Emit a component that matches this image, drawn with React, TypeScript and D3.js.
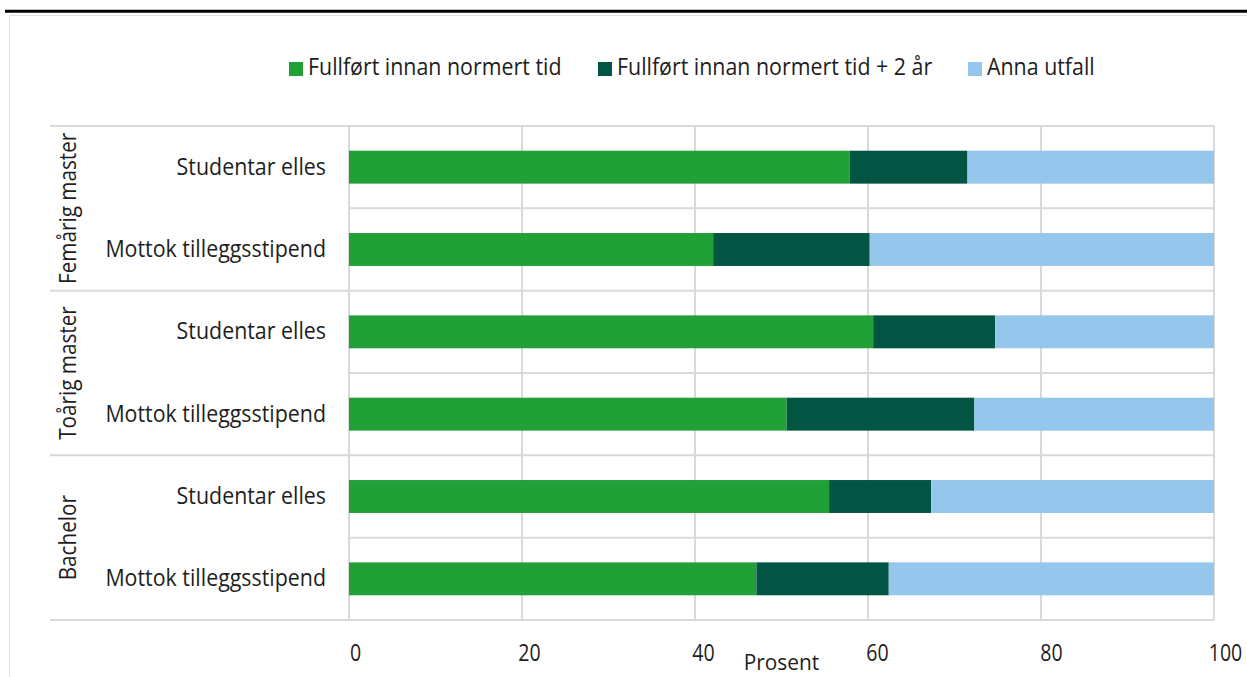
import React from 'react';
import * as d3 from 'd3';

const groups = ['Femårig master', 'Toårig master', 'Bachelor'];
const categories = ['Studentar elles', 'Mottok tilleggsstipend'];
const seriesNames = ['Fullført innan normert tid', 'Fullført innan normert tid + 2 år', 'Anna utfall'];
const normertTid = [57.9, 42.1, 60.6, 50.6, 55.5, 47.1];
const pluss2Aar = [13.6, 18.1, 14.1, 21.7, 11.8, 15.3];
const annaUtfall = [28.5, 39.8, 25.3, 27.7, 32.7, 37.6];
const xTicks = [0, 20, 40, 60, 80, 100];
const axisTitle = 'Prosent';

const colors = ['#21a038', '#025443', '#95c6ec'];
const W = 1247;
const H = 677;
const FONT = '"Open Sans", sans-serif';
const TXT = '#1e1e1e';
const GRID = '#d9d9d9';

type Row = { key: string; group: string; cat: string; [k: string]: any };

const rows: Row[] = [];
groups.forEach((g, gi) => {
  categories.forEach((c, ci) => {
    const i = gi * categories.length + ci;
    rows.push({
      key: `${g}|${c}`,
      group: g,
      cat: c,
      [seriesNames[0]]: normertTid[i],
      [seriesNames[1]]: pluss2Aar[i],
      [seriesNames[2]]: annaUtfall[i],
    });
  });
});

function T(props: {
  x: number; y: number; text: string; size?: number; sx?: number; anchor?: string; rotate?: number;
}) {
  const { x, y, text, size = 23, sx = 0.9, anchor = 'start', rotate = 0 } = props;
  return (
    <text
      transform={`translate(${x},${y}) rotate(${rotate}) scale(${sx},1)`}
      fontFamily={FONT}
      fontSize={size}
      fill={TXT}
      textAnchor={anchor}
    >
      {text}
    </text>
  );
}

export default function App() {
  const left = 349;
  const right = 1214;
  const top = 126;
  const bottom = 620;

  const x = d3.scaleLinear().domain([0, 100]).range([left, right]);
  const y = d3
    .scaleBand<string>()
    .domain(rows.map((r) => r.key))
    .range([top, bottom])
    .paddingInner(0.6)
    .paddingOuter(0.3);
  const step = y.step();

  const stack = d3.stack<Row>().keys(seriesNames);
  const stacked = stack(rows);

  const legendX = [289, 598, 968];

  const groupBounds = groups.map((g) => {
    const keys = rows.filter((r) => r.group === g).map((r) => r.key);
    const y0 = (y(keys[0]) as number) - step * 0.3;
    const y1 = (y(keys[keys.length - 1]) as number) + y.bandwidth() + step * 0.3;
    return { g, y0, y1 };
  });

  return (
    <svg
      width={W}
      height={H}
      style={{ position: 'absolute', left: 0, top: 0, display: 'block', background: '#fff' }}
    >
      <rect x={0} y={0} width={W} height={H} fill="#fff" />
      {/* top black rule */}
      <line x1={5} x2={W} y1={11.3} y2={11.3} stroke="#000" strokeWidth={3} />
      {/* outer chart border */}
      <rect x={9.5} y={15.5} width={W + 10} height={H + 10} fill="none" stroke="#e0e0e0" strokeWidth={1} />

      {/* legend */}
      {seriesNames.map((s, i) => (
        <g key={s}>
          <rect x={legendX[i]} y={62} width={14} height={14} fill={colors[i]} />
          <T x={legendX[i] + 19} y={75} text={s} size={23} sx={0.93} />
        </g>
      ))}

      {/* vertical gridlines */}
      {xTicks.map((t) => (
        <line key={t} x1={x(t)} x2={x(t)} y1={top} y2={bottom} stroke={GRID} strokeWidth={2} />
      ))}
      {/* group separators */}
      {[top, ...groupBounds.map((b) => b.y1)].map((yy, i) => (
        <line key={'g' + i} x1={50} x2={right} y1={yy} y2={yy} stroke={GRID} strokeWidth={2} />
      ))}
      {/* category separators within group */}
      {groupBounds.map((b, i) => {
        const mid = (b.y0 + b.y1) / 2;
        return <line key={'c' + i} x1={left} x2={right} y1={mid} y2={mid} stroke={GRID} strokeWidth={2} />;
      })}

      {/* bars */}
      {stacked.map((layer, si) => (
        <g key={layer.key} fill={colors[si]}>
          {layer.map((d, i) => (
            <rect
              key={rows[i].key}
              x={x(d[0])}
              y={y(rows[i].key)}
              width={x(d[1]) - x(d[0])}
              height={y.bandwidth()}
            />
          ))}
        </g>
      ))}

      {/* category labels */}
      {rows.map((r) => (
        <T
          key={r.key}
          x={326}
          y={(y(r.key) as number) + y.bandwidth() / 2 + 7.5}
          text={r.cat}
          anchor="end"
          size={23.5}
          sx={0.91}
        />
      ))}

      {/* group labels */}
      {groupBounds.map((b) => (
        <T
          key={b.g}
          x={76}
          y={(b.y0 + b.y1) / 2}
          text={b.g}
          anchor="middle"
          rotate={-90}
          size={23}
          sx={0.9}
        />
      ))}

      {/* x tick labels */}
      {xTicks.map((t) => (
        <T
          key={'t' + t}
          x={x(t) + 6.5 + t * 0.05}
          y={661}
          text={String(t)}
          anchor="middle"
          size={23}
          sx={0.85}
        />
      ))}

      <T x={(left + right) / 2} y={670} text={axisTitle} anchor="middle" size={22} sx={0.95} />
    </svg>
  );
}
